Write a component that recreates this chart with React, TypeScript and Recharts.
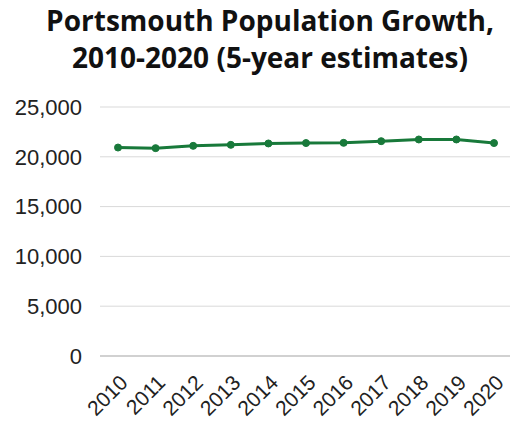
import React from "react";
import { LineChart, Line, XAxis, YAxis, CartesianGrid } from "recharts";

const years = ["2010", "2011", "2012", "2013", "2014", "2015", "2016", "2017", "2018", "2019", "2020"];
const population = [20930, 20870, 21100, 21200, 21340, 21380, 21400, 21570, 21740, 21740, 21380];
const yTicks = [0, 5000, 10000, 15000, 20000, 25000];

const data = years.map((year, i) => ({ year, population: population[i] }));

const XTick = (props: any) => {
  const { x, y, payload } = props;
  const ax = x + 11;
  const ay = y + 20;
  return (
    <text
      x={ax}
      y={ay}
      transform={`rotate(-45, ${ax}, ${ay})`}
      textAnchor="end"
      fontFamily="'Liberation Sans', Arial, sans-serif"
      fontSize={21}
      fill="#222"
    >
      {payload.value}
    </text>
  );
};

export default function App() {
  return (
    <div style={{ position: "absolute", left: 0, top: 0, width: 510, height: 422, background: "#fff", overflow: "hidden" }}>
      <div
        style={{
          position: "absolute",
          left: 0,
          top: 0,
          width: 540,
          textAlign: "center",
          fontFamily: "'Open Sans', sans-serif",
          fontWeight: 700,
          fontSize: 28,
          lineHeight: "37px",
          color: "#111",
          paddingTop: 2,
        }}
      >
        Portsmouth Population Growth,
        <br />
        2010-2020 (5-year estimates)
      </div>
      <div style={{ position: "absolute", left: 0, top: 0 }}>
        <LineChart width={510} height={422} data={data} margin={{ top: 107, right: 0, bottom: 0, left: 0 }}>
          <CartesianGrid vertical={false} stroke="#d9d9d9" strokeWidth={1} />
          <XAxis
            dataKey="year"
            height={66}
            padding={{ left: 18, right: 16 }}
            tickLine={false}
            axisLine={{ stroke: "#c8c8c8", strokeWidth: 1.5 }}
            tick={<XTick />}
            interval={0}
          />
          <YAxis
            width={100}
            domain={[0, 25000]}
            ticks={yTicks}
            tickFormatter={(v: number) => v.toLocaleString("en-US")}
            tickLine={false}
            axisLine={false}
            tickSize={0}
            tickMargin={18}
            tick={{ fontFamily: "'Liberation Sans', Arial, sans-serif", fontSize: 22, fill: "#222" }}
          />
          <Line
            type="linear"
            dataKey="population"
            stroke="#18793a"
            strokeWidth={3}
            dot={{ r: 3.5, fill: "#18793a", stroke: "#18793a", strokeWidth: 1 }}
            isAnimationActive={false}
          />
        </LineChart>
      </div>
    </div>
  );
}
